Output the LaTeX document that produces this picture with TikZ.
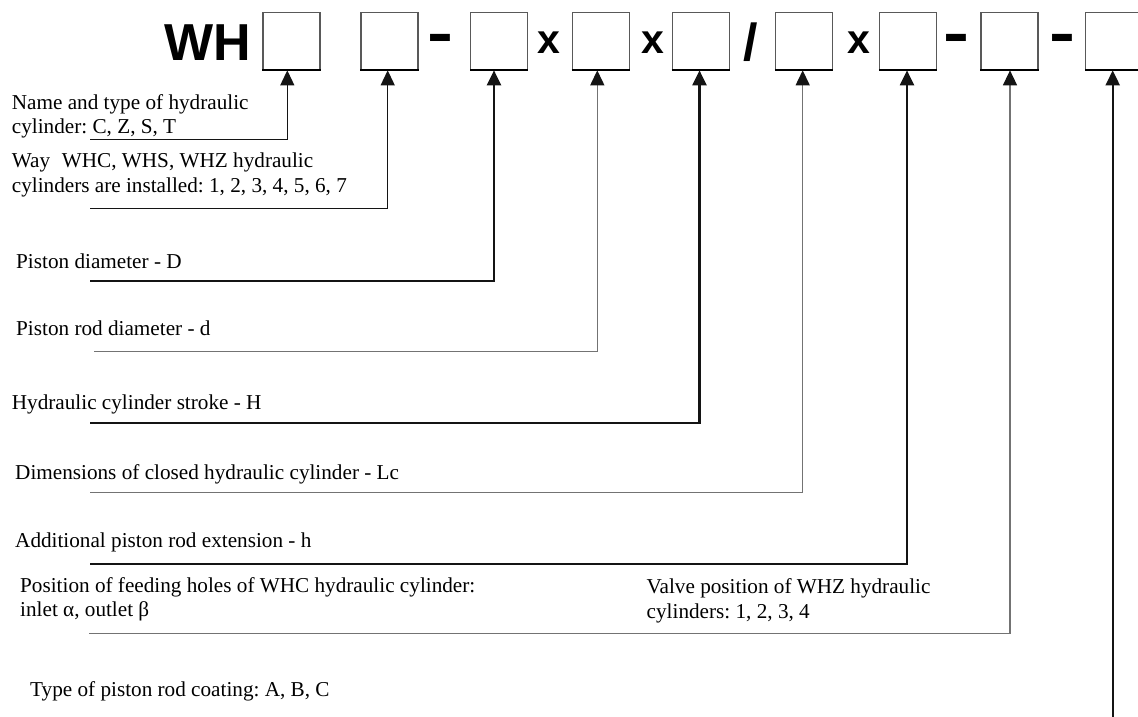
\documentclass[tikz,border=0pt]{standalone}
\usepackage{fontspec}
\setmainfont{Liberation Serif}
\newfontfamily\headfont{Liberation Sans}
\usetikzlibrary{arrows.meta}
\definecolor{gline}{gray}{0.45}
\definecolor{bline}{gray}{0.08}
\frenchspacing
\tikzset{
  codebox/.style={draw=black!65, line width=1.3pt, minimum width=57pt, minimum height=57pt, inner sep=0pt, fill=white},
  boxfoot/.style={draw=black, line width=2.2pt},
  lbl/.style={anchor=base west, inner sep=0pt, font=\fontsize{21.2}{24.3}\selectfont},
  sep/.style={anchor=base, inner sep=0pt, font=\headfont\bfseries\fontsize{41}{41}\selectfont},
  tipA/.style={-{Triangle[width=14pt,length=15pt,color=bline]}},
  thinblack/.style={tipA, draw=bline, line width=1.3pt},
  thickblack/.style={tipA, draw=bline, line width=2.2pt},
  thingray/.style={tipA, draw=gline, line width=1.5pt},
}
\begin{document}
\begin{tikzpicture}[x=1pt,y=-1pt]
\useasboundingbox (0,0) rectangle (1138,716);
\clip (0,0) rectangle (1138,716);
% header
\node[anchor=base west, inner sep=0pt, font=\headfont\bfseries\fontsize{52}{52}\selectfont] (wh) at (164.5,60) {WH};
\node[codebox] (b1) at (291.4,41.2) {};
\node[codebox] (b2) at (389.5,41.2) {};
\node[codebox] (b3) at (499.2,41.2) {};
\node[codebox] (b4) at (600.7,41.2) {};
\node[codebox] (b5) at (700.7,41.2) {};
\node[codebox] (b6) at (804.0,41.2) {};
\node[codebox] (b7) at (908.3,41.2) {};
\node[codebox] (b8) at (1009.6,41.2) {};
\node[codebox] (b9) at (1114.3,41.2) {};
\foreach \b in {b1,b2,b3,b4,b5,b6,b7,b8,b9}
  \draw[boxfoot] (\b.south west) -- (\b.south east);
\node[sep, font=\headfont\bfseries\fontsize{60}{60}\selectfont] (d1) at (440.0,53.3) {\scalebox{1.3}[1]{-}};
\node[sep] (x1) at (549.2,53.7) {x};
\node[sep] (x2) at (652.4,53.7) {x};
\node[sep, font=\headfont\bfseries\fontsize{52}{52}\selectfont] (sl) at (750.6,60) {/};
\node[sep] (x3) at (858.8,53.7) {x};
\node[sep, font=\headfont\bfseries\fontsize{60}{60}\selectfont] (d2) at (956.5,53.3) {\scalebox{1.3}[1]{-}};
\node[sep, font=\headfont\bfseries\fontsize{60}{60}\selectfont] (d3) at (1062.2,53.3) {\scalebox{1.3}[1]{-}};
% labels
\node[lbl] (t1a) at (11.7,109.3) {Name and type of hydraulic};
\node[lbl] (t1b) at (11.7,133.3) {cylinder: C, Z, S, T};
\node[lbl] (t2a) at (11.7,167.3) {Way\hspace{0.55em}WHC, WHS, WHZ hydraulic};
\node[lbl] (t2b) at (11.7,192.0) {cylinders are installed: 1, 2, 3, 4, 5, 6, 7};
\node[lbl] (t3) at (16,268.3) {Piston diameter - D};
\node[lbl] (t4) at (16,335) {Piston rod diameter - d};
\node[lbl] (t5) at (11.7,409.5) {Hydraulic cylinder stroke - H};
\node[lbl] (t6) at (15,479) {Dimensions of closed hydraulic cylinder - Lc};
\node[lbl] (t7) at (15,547.7) {Additional piston rod extension - h};
\node[lbl] (t8a) at (20,592.7) {Position of feeding holes of WHC hydraulic cylinder:};
\node[lbl] (t8b) at (20,616.7) {inlet α, outlet β};
\node[lbl] (t9a) at (646.5,593) {Valve position of WHZ hydraulic};
\node[lbl] (t9b) at (646.5,618) {cylinders: 1, 2, 3, 4};
\node[lbl] (t10) at (30,696.7) {Type of piston rod coating: A, B, C};
% leader coordinates
\coordinate (s1) at (90,139.3);   \coordinate (k1) at (287.3,139.3);
\coordinate (s2) at (90,208.3);   \coordinate (k2) at (387.7,208.3);
\coordinate (s3) at (90,280.7);   \coordinate (k3) at (494,280.7);
\coordinate (s4) at (94,351.7);   \coordinate (k4) at (597.3,351.7);
\coordinate (s5) at (90,422.7);   \coordinate (k5) at (699.5,422.7);
\coordinate (s6) at (90,492.5);   \coordinate (k6) at (802.7,492.5);
\coordinate (s7) at (90,564);     \coordinate (m7) at (396,564);   \coordinate (k7) at (907,564);
\coordinate (s8) at (89,633.3);   \coordinate (k8) at (1010,633.3);
\coordinate (s9) at (1112.7,720);
% leaders
\draw[thinblack] (s1) -- (k1) -- (k1 |- b1.south);
\draw[thinblack] (s2) -- (k2) -- (k2 |- b2.south);
\draw[thickblack] (s3) -- (k3) -- (k3 |- b3.south);
\draw[thingray] (s4) -- (k4) -- (k4 |- b4.south);
\draw[thickblack] (s5) -- (k5) -- (k5 |- b5.south);
\draw[thingray] (s6) -- (k6) -- (k6 |- b6.south);
\draw[draw=bline, line width=1.3pt] (s7) -- (m7);
\draw[thickblack] (m7) -- (k7) -- (k7 |- b7.south);
\draw[thingray] (s8) -- (k8) -- (k8 |- b8.south);
\draw[thickblack] (s9) -- (s9 |- b9.south);
\end{tikzpicture}
\end{document}
